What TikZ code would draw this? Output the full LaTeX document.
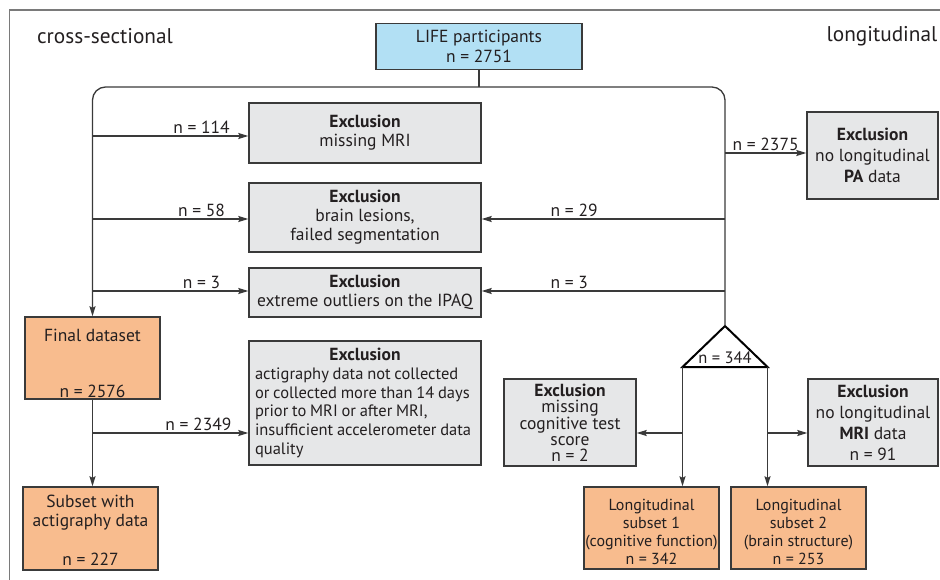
\documentclass[tikz,border=0pt]{standalone}
\usepackage{fontspec}
\setmainfont{PT Sans}
\newfontfamily\tightfont[WordSpace=0.85]{PT Sans}
\usetikzlibrary{arrows.meta,calc}
\definecolor{exgray}{HTML}{E6E7E8}
\definecolor{orng}{HTML}{F8BC8E}
\definecolor{lblue}{HTML}{B2E0F4}
\definecolor{linec}{HTML}{3A3A3A}
\definecolor{framec}{HTML}{7A7A7A}
\definecolor{txt}{HTML}{231F20}
\newcommand{\fs}{\fontsize{17.5}{19}\selectfont}
% fixed-height text block: height, width, top space, content
\newcommand{\tbx}[4]{\parbox[c][#1][t]{#2}{\centering\vspace*{#3}#4}}
\begin{document}
\begin{tikzpicture}[x=1pt,y=-1pt,
  box/.style={draw=linec, line width=1.4pt, inner sep=0pt, text=txt, align=center, font=\fs},
  exbox/.style={box, fill=exgray},
  orbox/.style={box, fill=orng},
  conn/.style={draw=linec, line width=1.3pt},
  arr/.style={conn, -{Stealth[length=10pt,width=6pt,inset=1.5pt]}},
  lbl/.style={font=\fs, text=txt, inner sep=1pt, anchor=south, yshift=1pt},
  side/.style={font=\fontsize{21.3}{23}\selectfont, text=txt, inner sep=0pt}
]
\useasboundingbox (0,0) rectangle (940,580);
% frame
\draw[framec, line width=1.8pt] (9.5,580) -- (9.5,10) -- (940,10);

\node[side] (cs) at (105,36) {cross-sectional};
\node[side] (lg) at (882,36) {longitudinal};

\node[box, fill=lblue, minimum width=206pt, minimum height=46pt, font=\fontsize{17.5}{20}\selectfont] (life) at (479,46.5)
  {LIFE participants\\n = 2751};

\node[exbox, minimum width=232pt, minimum height=60pt] (exA) at (365,133)
  {\textbf{Exclusion}\\missing MRI};
\node[exbox, minimum width=232pt, minimum height=69pt] (exB) at (365,217.5)
  {\textbf{Exclusion}\\brain lesions,\\failed segmentation};
\node[exbox, minimum width=232pt, minimum height=49pt] (exC) at (365,292.5)
  {\textbf{Exclusion}\\extreme outliers on the IPAQ};
\node[exbox, minimum width=232pt, minimum height=124pt, align=left, inner xsep=6pt,
  font=\tightfont\fontsize{16.5}{18.7}\selectfont] (exD) at (365,403)
  {\makebox[220pt][c]{\fontsize{17.5}{19}\selectfont\textbf{Exclusion}}\\actigraphy data not collected\\or collected more than 14 days\\prior to MRI or after MRI,\\insufficient accelerometer data\\quality};
\node[exbox, minimum width=131pt, minimum height=87pt, font=\fontsize{17.5}{21}\selectfont] (exPA) at (872.5,155.5)
  {\textbf{Exclusion}\\no longitudinal\\\textbf{PA} data};

\node[orbox, minimum width=135pt, minimum height=82pt] (final) at (92.5,358)
  {\tbx{82pt}{135pt}{12pt}{Final dataset\par\vfill n = 2576\par\vspace*{1.5pt}}};
\node[orbox, minimum width=135pt, minimum height=83pt] (subset) at (90.5,528.5)
  {\tbx{83pt}{135pt}{8pt}{Subset with\\actigraphy data\par\vfill n = 227\par\vspace*{5pt}}};

\node[exbox, minimum width=132pt, minimum height=87pt, font=\fontsize{17.5}{16}\selectfont] (cog) at (570,422.5)
  {\textbf{Exclusion}\\missing\\cognitive test\\score\\n = 2};
\node[exbox, minimum width=130pt, minimum height=87pt, font=\fontsize{17.5}{21}\selectfont] (mri) at (873,422.5)
  {\textbf{Exclusion}\\no longitudinal\\\textbf{MRI} data\\n = 91};

\node[orbox, minimum width=135pt, minimum height=82pt, font=\fontsize{16}{18}\selectfont] (sub1) at (651.5,528)
  {\tbx{82pt}{135pt}{12pt}{Longitudinal\\subset 1\\(cognitive function)\\n = 342}};
\node[orbox, minimum width=135pt, minimum height=82pt, font=\fontsize{16}{18}\selectfont] (sub2) at (798.5,528)
  {\tbx{82pt}{135pt}{12pt}{Longitudinal\\subset 2\\(brain structure)\\n = 253}};

% triangle
\coordinate (tA) at (725,326);
\coordinate (tL) at (682.5,367);
\coordinate (tR) at (767.5,367);
\draw[black, line width=2pt, line join=miter] (tA) -- (tR) -- (tL) -- cycle;
\node[font=\fontsize{16.5}{18}\selectfont, text=txt, inner sep=0pt] (n344) at (725,357.5) {n = 344};

% main bracket
\coordinate (jt) at (479,87);
\draw[conn] (life.south) -- (jt);
\draw[arr, rounded corners=13pt] (tA) |- (jt) -| (final.north);

% left arrows
\draw[arr] ($(exA.west -| final.north)+(0,3)$) -- node[lbl, pos=0.7] {n = 114} ($(exA.west)+(0,3)$);
\draw[arr] ($(exB.west -| final.north)+(0,1.5)$) -- node[lbl, pos=0.7] {n = 58} ($(exB.west)+(0,1.5)$);
\draw[arr] ($(exC.west -| final.north)+(0,-1.5)$) -- node[lbl, pos=0.7] {n = 3} ($(exC.west)+(0,-1.5)$);

% right arrows
\draw[arr] ($(exB.east -| tA)+(0,1.5)$) -- node[lbl, pos=0.62] {n = 29} ($(exB.east)+(0,1.5)$);
\draw[arr] ($(exC.east -| tA)+(0,-1.5)$) -- node[lbl, pos=0.64] {n = 3} ($(exC.east)+(0,-1.5)$);
\draw[arr] ($(exPA.west -| tA)+(0,-2.5)$) -- node[lbl, pos=0.5] {n = 2375} ($(exPA.west)+(0,-2.5)$);

% final -> subset
\coordinate (ja) at (92.5,433);
\draw[arr] (final.south) -- (final.south |- subset.north);
\draw[arr] (ja) -- node[lbl, pos=0.68] {n = 2349} (ja -| exD.west);

% triangle branches
\draw[arr] (tL) -- (tL |- sub1.north);
\draw[arr] (tR) -- (tR |- sub2.north);
\draw[arr] (tL |- ja) -- (cog.east |- ja);
\draw[arr] (tR |- ja) -- (mri.west |- ja);
\end{tikzpicture}
\end{document}
